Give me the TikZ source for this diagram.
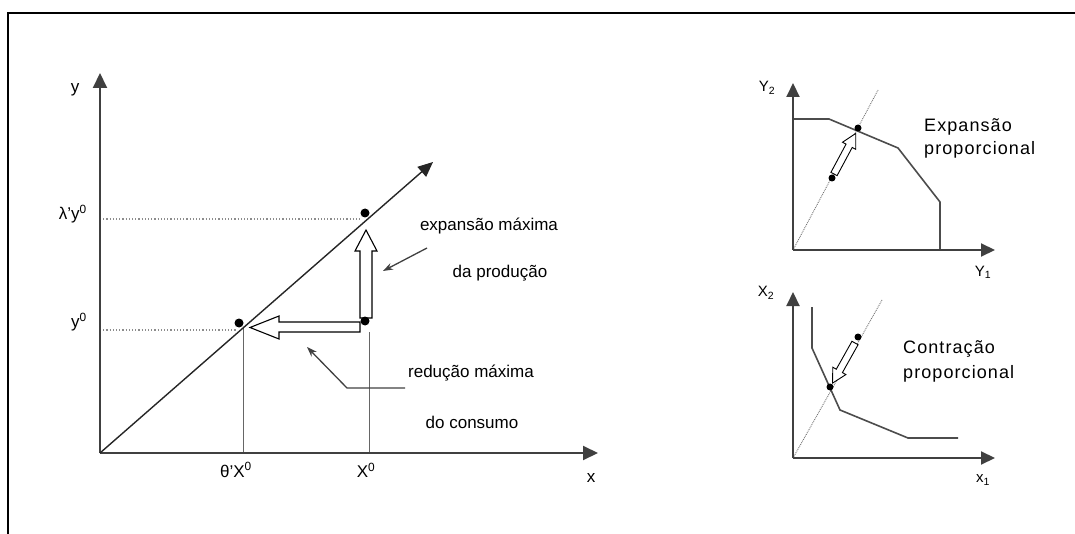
\documentclass[tikz,border=0pt]{standalone}
\usepackage{fontspec}
\setmainfont{Liberation Sans}
\usetikzlibrary{arrows.meta}
\tikzset{
  axis/.style={line width=2pt, draw=black!75, -{Triangle[length=15pt,width=14pt]}},
  saxis/.style={line width=2pt, draw=black!75, -{Triangle[length=14pt,width=13pt]}},
  guide/.style={line width=0.8pt, draw=black!60},
  dotline/.style={line width=1.2pt, draw=black!45, dotted},
  ray/.style={line width=0.9pt, draw=black!55, densely dotted},
  curve/.style={line width=1.6pt, draw=black!70},
  blockarr/.style={draw=black, line width=1.1pt, fill=white, line join=miter},
  pointer/.style={line width=1.3pt, draw=black!75, -{Stealth[length=10pt,width=7pt]}},
  dot/.style={circle, fill=black, inner sep=0pt, minimum size=9pt},
  sdot/.style={circle, fill=black, inner sep=0pt, minimum size=7pt},
  lbl/.style={font=\fontsize{17}{20}\selectfont, inner sep=1pt},
  slbl/.style={font=\fontsize{15}{18}\selectfont, inner sep=1pt},
  rlbl/.style={font=\fontsize{18}{21}\selectfont\addfontfeature{LetterSpace=6}, inner sep=0pt, anchor=west},
}
\begin{document}
\begin{tikzpicture}[x=1pt,y=-1pt]
\useasboundingbox (0,0) rectangle (1075,534);
% frame
\draw[line width=2pt, black] (8,534) -- (8,13) -- (1075,13);

% ===== main plot =====
\coordinate (O) at (100,453);
\coordinate (Ytip) at (100,73);
\coordinate (Xtip) at (598,453);
\coordinate (Dtip) at (433,162);
\coordinate (Lref) at (100,219);
\coordinate (Yref) at (100,330);
\coordinate (Xa) at (243,453);
\coordinate (Xb) at (369,453);

\draw[dotline] (Lref) -- (362,219) coordinate (Lend);
\draw[dotline] (Yref) -- (236,330) coordinate (Yend);
\draw[guide] (243,327) coordinate (Ga) -- (Xa);
\draw[guide] (369,332) coordinate (Gb) -- (Xb);

\draw[axis] (O) -- (Ytip);
\draw[axis] (O) -- (Xtip);
\draw[line width=1.4pt, black!85, -{Triangle[length=15pt,width=13pt]}] (O) -- (Dtip);

% block arrows
\draw[blockarr] (360,322) -- (279,322) -- (279,316) -- (250,327.5) -- (279,339) -- (279,332) -- (360,332) -- cycle;
\draw[blockarr] (360,318) -- (360,251) -- (355,251) -- (366,230) -- (377,251) -- (372,251) -- (372,318) -- cycle;

\node[dot] (P1) at (365,213) {};
\node[dot] (P0) at (365,321) {};
\node[dot] (P2) at (239,323) {};

% pointers
\coordinate (A1s) at (427,248);
\coordinate (A1e) at (383,271);
\draw[pointer] (A1s) -- (A1e);
\coordinate (A2s) at (405,388);
\coordinate (A2m) at (347,388);
\coordinate (A2e) at (307,347);
\draw[pointer] (A2s) -- (A2m) -- (A2e);

% labels
\node[lbl] (ly) at (75,90) {y};
\node[lbl] (lx) at (591,478) {x};
\node[lbl, anchor=east] (llam) at (88,214) {λ'y\textsuperscript{0}};
\node[lbl, anchor=east] (ly0) at (88,322) {y\textsuperscript{0}};
\node[lbl] (lth) at (236,470) {θ'X\textsuperscript{0}};
\node[lbl] (lx0) at (366,470) {X\textsuperscript{0}};
\node[lbl] (t1) at (489,226) {expansão máxima};
\node[lbl] (t2) at (500,273) {da produção};
\node[lbl] (t3) at (471,373) {redução máxima};
\node[lbl] (t4) at (472,422) {do consumo};

% ===== top right plot =====
\coordinate (O2) at (793,250);
\draw[ray] (O2) -- (878,90) coordinate (R2);
\draw[curve] (793,119) -- (829,119) -- (898,148) -- (940,202) -- (940,250);
\draw[saxis] (O2) -- (793,83) coordinate (Y2tip);
\draw[saxis] (O2) -- (995,250) coordinate (Y1tip);
\begin{scope}[shift={(834,174)}, rotate=61.8]
  \draw[blockarr, line width=0.9pt] (0,-3.5) -- (32,-3.5) -- (32,-7.5) -- (46,0) -- (32,7.5) -- (32,3.5) -- (0,3.5) -- cycle;
\end{scope}
\node[sdot] (Q1) at (858,128) {};
\node[sdot] (Q0) at (832,178) {};
\node[slbl] (lY2) at (767,88) {Y\textsubscript{2}};
\node[slbl] (lY1) at (983,272) {Y\textsubscript{1}};
\node[rlbl] (e1) at (924,127) {Expansão};
\node[rlbl] (e2) at (924,150) {proporcional};

% ===== bottom right plot =====
\coordinate (O3) at (793,458);
\draw[ray] (O3) -- (882,300) coordinate (R3);
\draw[curve] (812,307) -- (812,348) -- (840,410) -- (908,438) -- (958,438);
\draw[saxis] (O3) -- (793,292) coordinate (X2tip);
\draw[saxis] (O3) -- (995,458) coordinate (X1tip);
\begin{scope}[shift={(855,343)}, rotate=240.7]
  \draw[blockarr, line width=0.9pt] (0,-3.5) -- (32,-3.5) -- (32,-7.5) -- (46,0) -- (32,7.5) -- (32,3.5) -- (0,3.5) -- cycle;
\end{scope}
\node[sdot] (S1) at (858,337) {};
\node[sdot] (S0) at (830,387) {};
\node[slbl] (lX2) at (766,293) {X\textsubscript{2}};
\node[slbl] (lx1) at (983,480) {x\textsubscript{1}};
\node[rlbl] (c1) at (903,349) {Contração};
\node[rlbl] (c2) at (903,374) {proporcional};
\end{tikzpicture}
\end{document}
